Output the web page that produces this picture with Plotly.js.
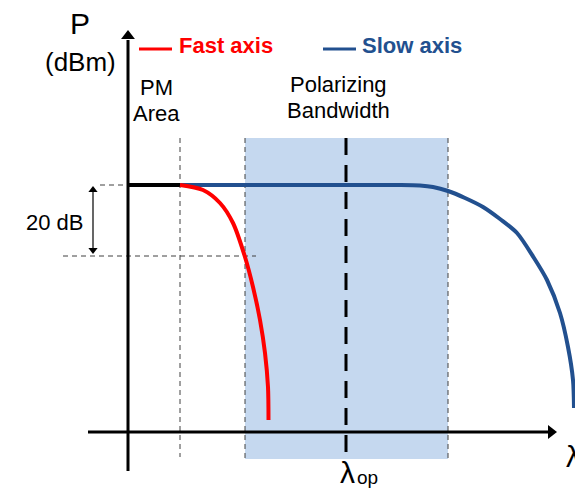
<!DOCTYPE html>
<html>
<head>
<meta charset="utf-8">
<script src="https://cdn.plot.ly/plotly-3.0.1.min.js"></script>
<style>html,body{margin:0;padding:0;background:#fff;}#chart{width:575px;height:490px;}</style>
</head>
<body>
<div id="chart"></div>
<script>
// Schematic values (chart units: x = wavelength position, y = power position, downward = lower power)
const fastX = [180, 203, 220, 233, 245, 253, 260, 265, 268, 268.5];
const fastY = [185, 190, 203, 223, 257, 287, 320, 353, 387, 420];
const slowX = [180, 300, 400, 420, 433, 448, 465, 483, 500, 517, 534, 547, 560, 568, 573, 574];
const slowY = [185, 185, 185, 185.5, 187, 191, 198, 207, 219, 233, 258, 280, 313, 347, 380, 408];
const pmX = [128, 180];
const pmY = [185, 185];
const plateauY = 185;
const drop20Y = 256;
const pmEdgeX = 180;
const bandX = [245, 448];
const lambdaOpX = 346;
const seriesNames = ["Fast axis", "Slow axis"];

const RED = "#ff0000";
const BLUE = "#22508f";
const FONT = "Liberation Sans, Arial, sans-serif";

const traces = [
  {x: pmX, y: pmY, mode: "lines", line: {color: "#000", width: 4}, hoverinfo: "skip"},
  {x: slowX, y: slowY, mode: "lines", line: {color: BLUE, width: 4, shape: "spline", smoothing: 0.8}, name: seriesNames[1]},
  {x: fastX, y: fastY, mode: "lines", line: {color: RED, width: 4, shape: "spline", smoothing: 0.8}, name: seriesNames[0]},
  // axis arrow heads
  {x: [128], y: [36], mode: "markers", marker: {symbol: "triangle-up", size: 12, color: "#000"}, hoverinfo: "skip"},
  {x: [551], y: [432], mode: "markers", marker: {symbol: "triangle-right", size: 12, color: "#000"}, hoverinfo: "skip"},
  // 20 dB arrow heads
  {x: [93], y: [190], mode: "markers", marker: {symbol: "triangle-up", size: 8, color: "#000"}, hoverinfo: "skip"},
  {x: [93], y: [250], mode: "markers", marker: {symbol: "triangle-down", size: 8, color: "#000"}, hoverinfo: "skip"},
  // legend lines
  {x: [139, 172], y: [49, 49], mode: "lines", line: {color: RED, width: 3}, hoverinfo: "skip"},
  {x: [323, 356], y: [49, 49], mode: "lines", line: {color: BLUE, width: 3}, hoverinfo: "skip"}
];

const dashGray = {color: "#404040", width: 1, dash: "5px,4px"};
const shapes = [
  {type: "rect", xref: "x", yref: "y", x0: bandX[0], x1: bandX[1], y0: 138, y1: 459, fillcolor: "#c5d8ef", line: {width: 0}, layer: "below"},
  {type: "line", x0: bandX[0], x1: bandX[0], y0: 138, y1: 459, line: dashGray, layer: "below"},
  {type: "line", x0: bandX[1], x1: bandX[1], y0: 138, y1: 459, line: dashGray, layer: "below"},
  {type: "line", x0: pmEdgeX, x1: pmEdgeX, y0: 138, y1: 457, line: dashGray, layer: "below"},
  {type: "line", x0: 100, x1: 128, y0: plateauY, y1: plateauY, line: dashGray, layer: "below"},
  {type: "line", x0: 63, x1: 256, y0: drop20Y, y1: drop20Y, line: dashGray, layer: "below"},
  {type: "line", x0: lambdaOpX, x1: lambdaOpX, y0: 138, y1: 460, line: {color: "#000", width: 3, dash: "17px,10px"}},
  // axes
  {type: "line", x0: 128, x1: 128, y0: 471, y1: 40, line: {color: "#000", width: 3}},
  {type: "line", x0: 88, x1: 548, y0: 432, y1: 432, line: {color: "#000", width: 3}},
  // 20 dB arrow shaft
  {type: "line", x0: 93, x1: 93, y0: 190, y1: 250, line: {color: "#000", width: 1.2}}
];

function txt(text, x, y, size, color, opts) {
  return Object.assign({text: text, x: x, y: y, xref: "x", yref: "y", showarrow: false,
    font: {family: FONT, size: size, color: color || "#000"}, xanchor: "center", yanchor: "middle"}, opts || {});
}

const annotations = [
  txt("P", 80, 23, 30),
  txt("(dBm)", 80, 62, 26),
  txt("<b>" + seriesNames[0] + "</b>", 177, 45, 22, RED, {xanchor: "left"}),
  txt("<b>" + seriesNames[1] + "</b>", 360, 45, 22, BLUE, {xanchor: "left"}),
  txt("PM", 156, 87, 22),
  txt("Area", 156, 113, 22),
  txt("Polarizing", 338, 84, 22),
  txt("Bandwidth", 338, 110, 22),
  txt("20 dB", 55, 222, 22),
  txt("λ", 347, 472, 30),
  txt("op", 355, 477, 19, "#000", {xanchor: "left"}),
  txt("λ", 564, 456, 30, "#000", {xanchor: "left"})
];

const layout = {
  width: 575, height: 490,
  margin: {l: 0, r: 0, t: 0, b: 0},
  paper_bgcolor: "#fff", plot_bgcolor: "#fff",
  showlegend: false,
  xaxis: {range: [0, 575], visible: false, fixedrange: true},
  yaxis: {range: [490, 0], visible: false, fixedrange: true},
  shapes: shapes,
  annotations: annotations
};

Plotly.newPlot("chart", traces, layout, {displayModeBar: false, staticPlot: true});
</script>
</body>
</html>
